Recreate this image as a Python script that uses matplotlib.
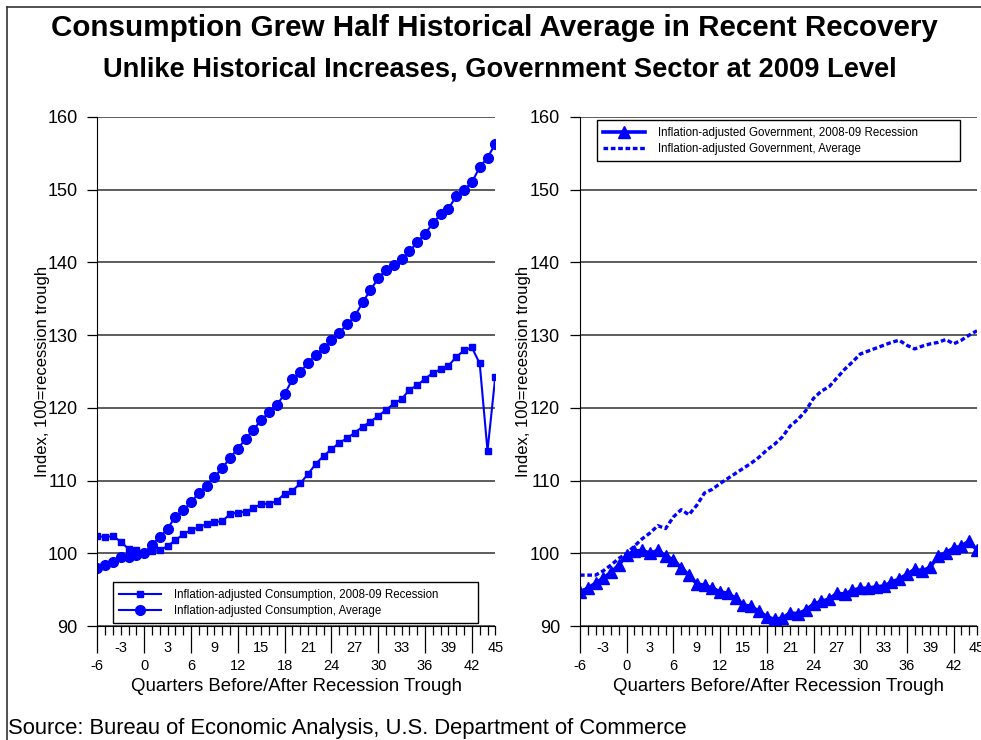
import matplotlib.pyplot as plt
import numpy as np
from matplotlib.lines import Line2D

plt.rcParams['font.family'] = ['Liberation Sans', 'DejaVu Sans']

# quarters before/after the recession trough
quarters = np.arange(-6, 46)

# index, 100 = recession trough
cons_recession = [102.4, 102.2, 102.4, 101.6, 100.6, 100.5, 100.0, 100.3, 100.4, 101.0,
                  101.8, 102.6, 103.2, 103.6, 104.0, 104.3, 104.4, 105.4, 105.6, 105.7,
                  106.2, 106.8, 106.8, 107.2, 108.2, 108.6, 109.6, 110.9, 112.3, 113.4,
                  114.3, 115.2, 115.8, 116.6, 117.4, 118.1, 118.9, 119.7, 120.6, 121.2,
                  122.5, 123.1, 124.0, 124.8, 125.3, 125.8, 127.0, 127.9, 128.3, 126.1,
                  114.1, 124.3]
cons_average = [98.0, 98.4, 98.8, 99.5, 99.5, 99.7, 100.0, 101.2, 102.2, 103.4,
                105.0, 105.9, 107.0, 108.3, 109.2, 110.5, 111.7, 113.1, 114.4, 115.7,
                117.0, 118.3, 119.4, 120.4, 121.9, 123.9, 124.9, 126.2, 127.3, 128.2,
                129.3, 130.3, 131.5, 132.6, 134.5, 136.2, 137.8, 139.0, 139.7, 140.4,
                141.5, 142.8, 143.9, 145.4, 146.6, 147.4, 149.1, 150.0, 151.0, 153.1,
                154.4, 156.3]
gov_recession = [94.7, 95.2, 95.9, 96.6, 97.4, 98.4, 99.8, 100.3, 100.4, 100.0,
                 100.4, 99.6, 99.1, 98.0, 97.0, 95.8, 95.6, 95.2, 94.7, 94.5,
                 93.8, 92.9, 92.7, 92.0, 91.3, 90.9, 91.1, 91.8, 91.7, 92.2,
                 93.0, 93.4, 93.7, 94.5, 94.4, 94.9, 95.2, 95.2, 95.4, 95.5,
                 96.0, 96.5, 97.1, 97.8, 97.6, 98.1, 99.6, 100.1, 100.7, 101.0,
                 101.7, 100.4]
gov_average = [97.0, 97.0, 97.0, 97.6, 98.4, 99.3, 100.0, 101.0, 102.0, 102.8,
               103.8, 103.4, 105.0, 106.0, 105.3, 106.6, 108.3, 108.8, 109.6, 110.3,
               111.0, 111.7, 112.4, 113.2, 114.2, 115.0, 116.0, 117.5, 118.4, 119.6,
               121.3, 122.3, 122.9, 124.1, 125.3, 126.3, 127.4, 127.8, 128.2, 128.6,
               129.0, 129.3, 128.6, 128.1, 128.5, 128.8, 129.0, 129.4, 128.8, 129.3,
               130.0, 130.6]

# staggered x labels, Excel style
upper_labels = list(range(-3, 46, 6))
lower_labels = list(range(-6, 43, 6))
y_ticks = list(range(90, 161, 10))

BLUE = '#0000ff'

fig = plt.figure(figsize=(9.81, 7.40), dpi=100)
ax1 = fig.add_axes([0.0992, 0.154, 0.4057, 0.688])
ax2 = fig.add_axes([0.5912, 0.154, 0.4047, 0.688])


def style_axes(ax, ylab_x):
    ax.set_xlim(-6, 45)
    ax.set_ylim(90, 160)
    ax.set_yticks(y_ticks)
    ax.yaxis.grid(True, color='#303030', lw=1.1)
    ax.set_axisbelow(True)
    for s in ['top', 'right']:
        ax.spines[s].set_visible(False)
    ax.spines['left'].set_color('black')
    ax.spines['bottom'].set_color('black')
    ax.tick_params(axis='y', direction='out', length=7.2, width=0.9, pad=7, labelsize=13)
    ax.set_xticks(lower_labels)
    ax.set_xticklabels([])
    ax.set_xticks(quarters, minor=True)
    ax.tick_params(axis='x', which='major', direction='out', length=19.5, width=0.9)
    ax.tick_params(axis='x', which='minor', direction='out', length=6.5, width=0.9)
    for q in upper_labels:
        ax.annotate(str(q), xy=(q, 0), xycoords=('data', 'axes fraction'),
                    xytext=(0, -16), textcoords='offset points',
                    ha='center', va='center', fontsize=10.5)
    for q in lower_labels:
        ax.annotate(str(q), xy=(q, 0), xycoords=('data', 'axes fraction'),
                    xytext=(0, -29), textcoords='offset points',
                    ha='center', va='center', fontsize=10.5)
    ax.set_xlabel('Quarters Before/After Recession Trough', fontsize=13.4, va='center')
    ax.xaxis.set_label_coords(0.5, -0.118)
    ax.set_ylabel('Index, 100=recession trough', fontsize=12, va='center')
    ax.yaxis.set_label_coords(ylab_x, 0.5)


style_axes(ax1, -0.138)
style_axes(ax2, -0.143)

leg_kw = dict(loc='lower left', bbox_transform=fig.transFigure, mode='expand',
              fontsize=8.3, fancybox=False, edgecolor='black', framealpha=1,
              handlelength=3.6, handletextpad=1.1, borderpad=0.55,
              labelspacing=0.35, borderaxespad=0)

ax1.plot(quarters, cons_recession, color=BLUE, lw=1.5, marker='s', ms=4.2,
         label='Inflation-adjusted Consumption, 2008-09 Recession')
ax1.plot(quarters, cons_average, color=BLUE, lw=1.5, marker='o', ms=7,
         label='Inflation-adjusted Consumption, Average')
ax1.legend(bbox_to_anchor=(0.1152, 0.1581, 0.3721, 0.0595), **leg_kw)

ax2.plot(quarters, gov_average, color=BLUE, lw=2.4, dashes=(1.4, 0.8),
         label='Inflation-adjusted Government, Average')
ax2.plot(quarters, gov_recession, color=BLUE, lw=2.6, marker='^', ms=9,
         label='Inflation-adjusted Government, 2008-09 Recession')
h, l = ax2.get_legend_handles_labels()
ax2.legend(h[::-1], l[::-1], bbox_to_anchor=(0.6086, 0.7824, 0.37, 0.062), **leg_kw)

fig.text(0.504, 0.962, 'Consumption Grew Half Historical Average in Recent Recovery',
         ha='center', va='center', fontsize=21.3, fontweight='bold')
fig.text(0.51, 0.906, 'Unlike Historical Increases, Government Sector at 2009 Level',
         ha='center', va='center', fontsize=19.6, fontweight='bold')
fig.text(0.008, 0.016, 'Source: Bureau of Economic Analysis, U.S. Department of Commerce',
         ha='left', va='center', fontsize=15.85)

# outer frame of the original slide
fig.add_artist(Line2D([0.0072, 0.0072], [0, 0.9905], color='#333333', lw=1.2))
fig.add_artist(Line2D([0.0072, 1.0], [0.9905, 0.9905], color='#333333', lw=1.2))

plt.savefig('out.png', dpi=100)
